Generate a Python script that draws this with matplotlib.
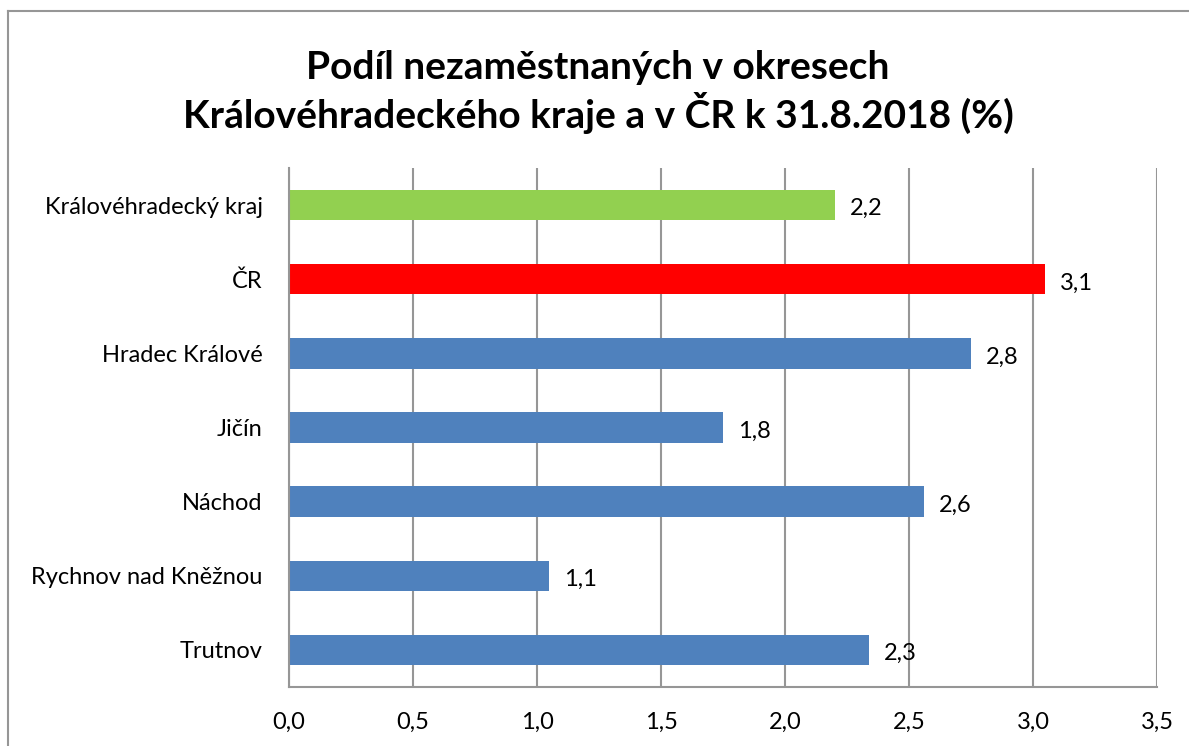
import matplotlib.pyplot as plt
from matplotlib.lines import Line2D

# Data
categories = ["Královéhradecký kraj", "ČR", "Hradec Králové", "Jičín",
              "Náchod", "Rychnov nad Kněžnou", "Trutnov"]
values = [2.20, 3.05, 2.75, 1.75, 2.56, 1.05, 2.34]
labels = ["2,2", "3,1", "2,8", "1,8", "2,6", "1,1", "2,3"]
colors = ["#92d050", "#ff0000", "#4f81bd", "#4f81bd", "#4f81bd", "#4f81bd", "#4f81bd"]
xticks = [0.0, 0.5, 1.0, 1.5, 2.0, 2.5, 3.0, 3.5]

plt.rcParams['font.family'] = ['Lato', 'DejaVu Sans']
GRID = "#969696"

fig = plt.figure(figsize=(11.89, 7.46), dpi=100)
ax = fig.add_axes([289 / 1189, 1 - 687 / 746, (1157 - 289) / 1189, (687 - 168) / 746])

ypos = list(range(len(categories)))[::-1]
ax.barh(ypos, values, height=0.41, color=colors, zorder=3)
for y, v, lab in zip(ypos, values, labels):
    ax.text(v + 0.06, y - 0.05, lab, va="center", ha="left", fontsize=17, zorder=4)

ax.set_xlim(0, 3.5)
ax.set_ylim(-0.5, len(categories) - 0.5)
ax.set_xticks(xticks)
ax.set_xticklabels([f"{t:.1f}".replace(".", ",") for t in xticks], fontsize=17)
ax.set_yticks(ypos)
ax.set_yticklabels(categories, fontsize=17)
ax.tick_params(axis="both", length=0)
ax.tick_params(axis="x", pad=18)
ax.tick_params(axis="y", pad=19)

ax.grid(axis="x", color=GRID, linewidth=1.5, zorder=0)
for s in ["top", "right"]:
    ax.spines[s].set_visible(False)
for s in ["left", "bottom"]:
    ax.spines[s].set_color(GRID)
    ax.spines[s].set_linewidth(1.5)
    ax.spines[s].set_zorder(4)

fig.text(0.503, 1 - 92 / 746,
         "Podíl nezaměstnaných v okresech\nKrálovéhradeckého kraje a v ČR k 31.8.2018 (%)",
         ha="center", va="center", fontsize=28, fontweight="bold", linespacing=1.2)

# outer chart border (top and left visible)
fig.add_artist(Line2D([8 / 1189, 1], [1 - 11 / 746] * 2, color=GRID, linewidth=1.5,
                      transform=fig.transFigure))
fig.add_artist(Line2D([8 / 1189] * 2, [0, 1 - 11 / 746], color=GRID, linewidth=1.5,
                      transform=fig.transFigure))

fig.savefig("out.png", dpi=100)
